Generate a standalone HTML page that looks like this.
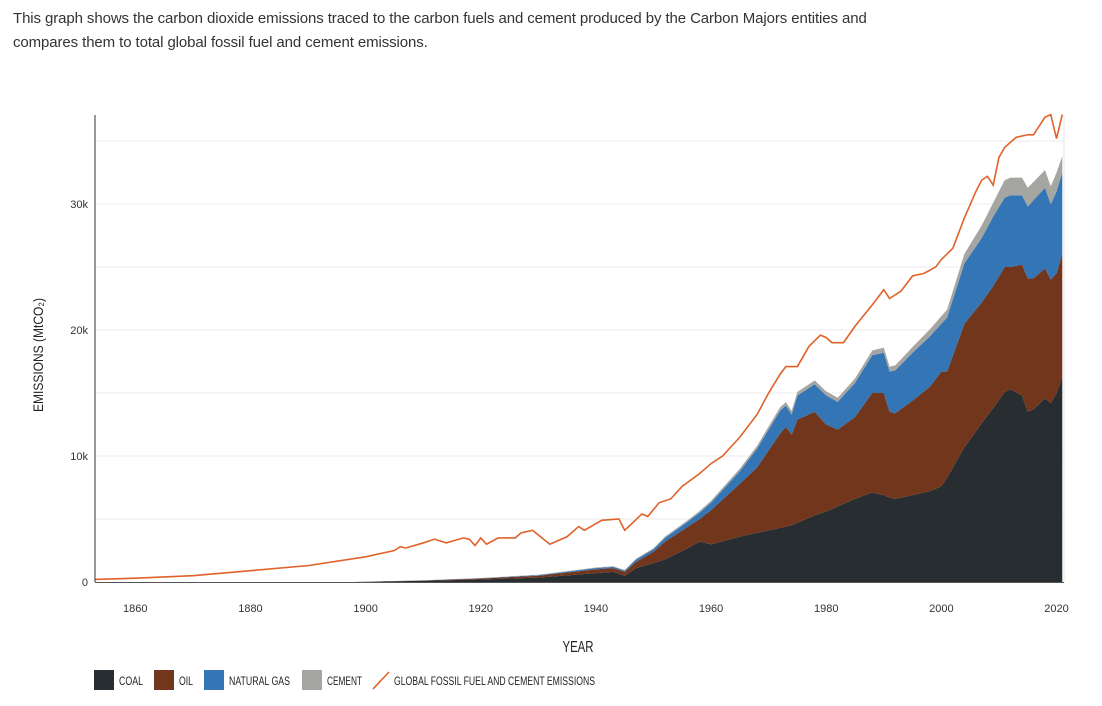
<!DOCTYPE html>
<html><head><meta charset="utf-8"><style>
body{margin:0;background:#fff;width:1102px;height:706px;overflow:hidden;font-family:"Liberation Sans",sans-serif;}
#desc{position:absolute;left:13px;top:7px;font-size:15px;line-height:24px;color:#333;width:900px;letter-spacing:-0.1px;}
svg{position:absolute;left:0;top:0;}
.t{font-family:"Liberation Sans",sans-serif;font-size:11px;fill:#333;}
.lg{font-family:"Liberation Sans",sans-serif;font-size:11.5px;fill:#222;}
</style></head><body>
<div id="desc">This graph shows the carbon dioxide emissions traced to the carbon fuels and cement produced by the Carbon Majors entities and compares them to total global fossil fuel and cement emissions.</div>
<svg id="chart" width="1102" height="706"></svg>
<script>
const years=[1898,1910,1920,1930,1940,1943,1945,1947,1950,1952,1956,1958,1960,1965,1968,1972,1973,1974,1975,1978,1980,1982,1985,1988,1990,1991,1992,1995,1998,2000,2001,2004,2007,2009,2011,2012,2014,2015,2016,2018,2019,2020,2021];
const coal=[0,0.1,0.2,0.35,0.7,0.8,0.5,1.1,1.5,1.8,2.7,3.2,3.0,3.6,3.9,4.3,4.4,4.5,4.7,5.3,5.6,6.0,6.6,7.1,6.9,6.7,6.6,6.9,7.2,7.6,8.3,10.7,12.6,13.8,15.1,15.3,14.8,13.5,13.7,14.6,14.2,15.0,16.3];
const oil=[0,0.02,0.08,0.15,0.3,0.3,0.3,0.5,0.9,1.4,1.7,1.8,2.7,4.2,5.2,7.5,7.9,7.2,8.2,8.2,6.9,6.1,6.5,7.9,8.1,6.8,6.8,7.5,8.3,9.1,8.4,9.8,9.6,9.7,9.9,9.7,10.4,10.6,10.4,10.3,9.8,9.5,9.8];
const gas=[0,0.01,0.02,0.05,0.1,0.1,0.1,0.2,0.2,0.3,0.4,0.5,0.6,1.0,1.5,1.8,1.7,1.6,1.9,2.2,2.3,2.2,2.7,3.0,3.2,3.2,3.4,3.8,4.0,3.8,4.3,4.8,5.1,5.5,5.5,5.7,5.5,5.7,6.2,6.4,6.0,6.5,6.4];
const cement=[0,0.01,0.02,0.03,0.05,0.05,0.05,0.06,0.08,0.1,0.12,0.14,0.15,0.2,0.22,0.27,0.28,0.28,0.29,0.3,0.33,0.33,0.35,0.38,0.4,0.4,0.4,0.45,0.55,0.6,0.62,0.75,1.0,1.1,1.4,1.4,1.4,1.5,1.45,1.4,1.4,1.5,1.3];
const globalYears=[1853,1860,1870,1880,1890,1900,1905,1906,1907,1910,1912,1914,1917,1918,1919,1920,1921,1923,1926,1927,1929,1932,1935,1937,1938,1941,1944,1945,1948,1949,1951,1953,1955,1958,1960,1962,1965,1968,1970,1972,1973,1975,1977,1979,1980,1981,1983,1985,1988,1990,1991,1993,1995,1997,1999,2000,2002,2004,2006,2007,2008,2009,2010,2011,2013,2015,2016,2018,2019,2020,2021];
const globalVals=[0.2,0.3,0.5,0.9,1.3,2.0,2.5,2.8,2.7,3.1,3.4,3.1,3.5,3.4,2.9,3.5,3.0,3.5,3.5,3.9,4.1,3.0,3.6,4.4,4.1,4.9,5.0,4.1,5.4,5.2,6.3,6.6,7.6,8.6,9.4,10.0,11.5,13.3,15.0,16.5,17.1,17.1,18.7,19.6,19.4,19.0,19.0,20.3,22.0,23.2,22.5,23.1,24.3,24.5,25.0,25.6,26.5,28.9,31.0,31.9,32.2,31.5,33.7,34.5,35.3,35.5,35.5,36.9,37.1,35.2,37.1];
const xTicks=[1860,1880,1900,1920,1940,1960,1980,2000,2020];
const yTicks=[0,10,20,30];
const yTickLabels=["0","10k","20k","30k"];
const gridVals=[5,10,15,20,25,30,35];

const NS="http://www.w3.org/2000/svg";
const svg=document.getElementById('chart');
const X0=95,X1=1064,Y0=582,Y1=115;
const xs=y=>X0+(y-1853)/(2021.3-1853)*(X1-X0);
const ys=v=>Y0-v/37.07*(Y0-Y1);
function mk(tag,attrs){const e=document.createElementNS(NS,tag);for(const k in attrs)e.setAttribute(k,attrs[k]);svg.appendChild(e);return e;}

gridVals.forEach(v=>{
 const g=mk('line',{x1:X0,x2:X1,y1:ys(v),y2:ys(v),stroke:'#ebebeb','stroke-width':1});
 
 
});
const series=[coal,oil,gas,cement];
const colors=['#272d30','#72361c','#3375b5','#a5a6a1'];
const names=['area-coal','area-oil','area-natural-gas','area-cement'];
let base=years.map(()=>0);
series.forEach((s,si)=>{
 const top=base.map((b,i)=>b+s[i]);
 let d='M'+years.map((y,i)=>xs(y)+','+ys(top[i])).join('L');
 for(let i=years.length-1;i>=0;i--)d+='L'+xs(years[i])+','+ys(base[i]);
 d+='Z';
 const p=mk('path',{d:d,fill:colors[si]});
 
 
 base=top;
});
const ln=mk('polyline',{points:globalYears.map((y,i)=>xs(y)+','+ys(globalVals[i])).join(' '),fill:'none',stroke:'#e0622a','stroke-width':1.6});


const ya=mk('line',{x1:X0,x2:X0,y1:Y1,y2:Y0,stroke:'#333','stroke-width':1});


const xa=mk('line',{x1:X0,x2:X1,y1:Y0+0.5,y2:Y0+0.5,stroke:'#555','stroke-width':1});


const re=mk('line',{x1:X1,x2:X1,y1:Y1,y2:Y0,stroke:'#e6e6e6','stroke-width':1});


yTicks.forEach((v,i)=>{
 const t=mk('text',{x:88,y:ys(v)+4,'text-anchor':'end',class:'t'});
 t.textContent=yTickLabels[i];
 
 
});
xTicks.forEach(v=>{
 const t=mk('text',{x:xs(v),y:612,'text-anchor':'middle',class:'t'});
 t.textContent=v;
 
 
});
</script>
<svg width="1102" height="706" style="pointer-events:none">
<text transform="translate(43,355) rotate(-90)" text-anchor="middle" textLength="114" lengthAdjust="spacingAndGlyphs" style="font-family:'Liberation Sans',sans-serif;font-size:14px;fill:#222">EMISSIONS (MtCO₂)</text>
<text x="578" y="652" text-anchor="middle" textLength="31" lengthAdjust="spacingAndGlyphs" style="font-family:'Liberation Sans',sans-serif;font-size:16px;fill:#222">YEAR</text>
<g>
<rect x="94" y="670" width="20" height="20" fill="#272d30"/>
<text class="lg" x="119" y="685" textLength="24" lengthAdjust="spacingAndGlyphs">COAL</text>
<rect x="154" y="670" width="20" height="20" fill="#72361c"/>
<text class="lg" x="179" y="685" textLength="14" lengthAdjust="spacingAndGlyphs">OIL</text>
<rect x="204" y="670" width="20" height="20" fill="#3375b5"/>
<text class="lg" x="229" y="685" textLength="61" lengthAdjust="spacingAndGlyphs">NATURAL GAS</text>
<rect x="302" y="670" width="20" height="20" fill="#a5a6a1"/>
<text class="lg" x="327" y="685" textLength="35" lengthAdjust="spacingAndGlyphs">CEMENT</text>
<line x1="373" y1="689" x2="389" y2="672" stroke="#e0622a" stroke-width="1.6"/>
<text class="lg" x="394" y="685" textLength="201" lengthAdjust="spacingAndGlyphs">GLOBAL FOSSIL FUEL AND CEMENT EMISSIONS</text>
</g>
</svg>
</body></html>
